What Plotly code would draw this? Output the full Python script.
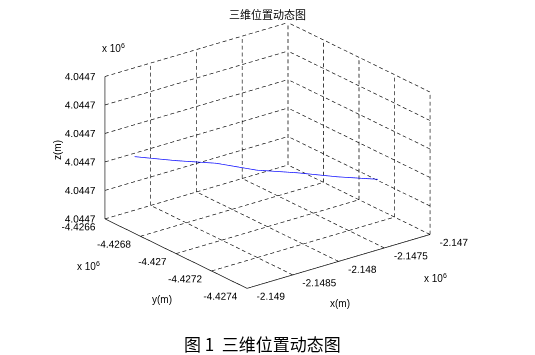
import plotly.graph_objects as go

# ---- data (meters) ----
x_ticks = [-2149000, -2148500, -2148000, -2147500, -2147000]
x_ticktext = ["-2.149", "-2.1485", "-2.148", "-2.1475", "-2.147"]
y_ticks = [-4426600, -4426800, -4427000, -4427200, -4427400]
y_ticktext = ["-4.4266", "-4.4268", "-4.427", "-4.4272", "-4.4274"]
z_ticks = [4044700, 4044702, 4044704, 4044706, 4044708, 4044710]
z_ticktext = ["4.0447"] * 6

track_x = [-2148724, -2148500, -2148280, -2148060, -2147840, -2147620, -2147400]
track_y = [-4426625, -4426740, -4426855, -4426970, -4427085, -4427200, -4427313]
track_z = [4044704.0, 4044704.0, 4044704.1, 4044703.9, 4044704.0, 4044704.0, 4044704.1]

# plot relative to the lower corner to keep WebGL precision
X0, Y0, Z0 = min(x_ticks), min(y_ticks), min(z_ticks)
rx = lambda v: v - X0
ry = lambda v: v - Y0
rz = lambda v: v - Z0

xmin, xmax = rx(min(x_ticks)), rx(max(x_ticks))
ymin, ymax = ry(min(y_ticks)), ry(max(y_ticks))
zmin, zmax = rz(min(z_ticks)), rz(max(z_ticks))

# ---- dashed grid segments on the back walls and floor ----
gx, gy, gz = [], [], []
def dashed(p, q, n):
    for i in range(n):
        t0 = i / n
        t1 = (i + 0.58) / n
        a = [p[k] + (q[k] - p[k]) * t0 for k in range(3)]
        b = [p[k] + (q[k] - p[k]) * t1 for k in range(3)]
        gx.extend([a[0], b[0], None]); gy.extend([a[1], b[1], None]); gz.extend([a[2], b[2], None])

NX, NY, NZ = 28, 24, 21
for xv in map(rx, x_ticks):
    if xv != xmin:
        dashed((xv, ymax, zmin), (xv, ymax, zmax), NZ)      # left wall verticals
        dashed((xv, ymin, zmin), (xv, ymax, zmin), NY)      # floor
for yv in map(ry, y_ticks):
    dashed((xmax, yv, zmin), (xmax, yv, zmax), NZ)          # right wall verticals
    if yv != ymin:
        dashed((xmin, yv, zmin), (xmax, yv, zmin), NX)      # floor
for zv in map(rz, z_ticks):
    if zv != zmin:
        dashed((xmin, ymax, zv), (xmax, ymax, zv), NX)      # left wall horizontals
        dashed((xmax, ymin, zv), (xmax, ymax, zv), NY)      # right wall horizontals

# ---- solid axis lines ----
ax_x, ax_y, ax_z = [], [], []
def aseg(p, q):
    ax_x.extend([p[0], q[0], None]); ax_y.extend([p[1], q[1], None]); ax_z.extend([p[2], q[2], None])
aseg((xmin, ymin, zmin), (xmax, ymin, zmin))
aseg((xmin, ymin, zmin), (xmin, ymax, zmin))
aseg((xmin, ymax, zmin), (xmin, ymax, zmax))

fig = go.Figure()
fig.add_trace(go.Scatter3d(x=gx, y=gy, z=gz, mode="lines",
                           line=dict(color="black", width=1.3),
                           hoverinfo="skip", showlegend=False, connectgaps=False))
fig.add_trace(go.Scatter3d(x=ax_x, y=ax_y, z=ax_z, mode="lines",
                           line=dict(color="black", width=1.4),
                           hoverinfo="skip", showlegend=False, connectgaps=False))
fig.add_trace(go.Scatter3d(x=[rx(v) for v in track_x], y=[ry(v) for v in track_y],
                           z=[rz(v) for v in track_z], mode="lines",
                           line=dict(color="#0000ff", width=1.4),
                           showlegend=False))

tick_font = dict(family="Liberation Sans, Arial", size=10, color="black")
lab_lift = 0.04 * (zmax - zmin)   # small upward shift of the x/y tick-label anchors
fig.add_trace(go.Scatter3d(x=[xmin] * len(z_ticks), y=[ymax] * len(z_ticks),
                           z=[rz(v) for v in z_ticks],
                           mode="text", text=z_ticktext, textposition="middle left",
                           textfont=tick_font, hoverinfo="skip", showlegend=False))
fig.add_trace(go.Scatter3d(x=[xmin] * len(y_ticks), y=[ry(v) for v in y_ticks],
                           z=[zmin + lab_lift] * len(y_ticks),
                           mode="text", text=y_ticktext, textposition="bottom left",
                           textfont=tick_font, hoverinfo="skip", showlegend=False))
fig.add_trace(go.Scatter3d(x=[rx(v) for v in x_ticks], y=[ymin] * len(x_ticks),
                           z=[zmin + lab_lift] * len(x_ticks),
                           mode="text", text=x_ticktext, textposition="bottom right",
                           textfont=tick_font, hoverinfo="skip", showlegend=False))

hidden = dict(visible=False, showgrid=False, zeroline=False, showbackground=False)
S = 1.6
A = 1.49
fig.update_layout(
    width=535, height=355,
    margin=dict(l=0, r=0, t=0, b=0),
    paper_bgcolor="white", plot_bgcolor="white",
    scene=dict(
        xaxis=dict(hidden, range=[xmin, xmax]),
        yaxis=dict(hidden, range=[ymin, ymax]),
        zaxis=dict(hidden, range=[zmin, zmax]),
        aspectmode="manual", aspectratio=dict(x=A, y=A, z=0.99),
        camera=dict(eye=dict(x=-0.613 * S, y=-0.790 * S, z=0.41 * S),
                    center=dict(x=0, y=0, z=0), up=dict(x=0, y=0, z=1),
                    projection=dict(type="orthographic")),
        domain=dict(x=[0, 1], y=[0.124, 1]),
    ),
)

lab_font = dict(family="Liberation Sans, Arial", size=10, color="black")
ann = [
    dict(x=267, y=14, text="三维位置动态图", font=dict(family="Noto Sans CJK SC", size=11, color="black")),
    dict(x=262, y=343, text="图 1  三维位置动态图", font=dict(family="Noto Sans CJK SC", size=17, color="black")),
    dict(x=113, y=48, text="x 10<sup>6</sup>", font=lab_font),
    dict(x=88, y=266, text="x 10<sup>6</sup>", font=lab_font),
    dict(x=435, y=278, text="x 10<sup>6</sup>", font=lab_font),
    dict(x=57, y=150, text="z(m)", font=lab_font, textangle=-90),
    dict(x=162, y=299, text="y(m)", font=lab_font),
    dict(x=340, y=303, text="x(m)", font=lab_font),
]
annotations = []
for a in ann:
    a = dict(a)
    a["x"] = a["x"] / 535
    a["y"] = 1 - a["y"] / 355
    annotations.append(dict(xref="paper", yref="paper", showarrow=False,
                            xanchor="center", yanchor="middle", **a))
fig.update_layout(annotations=annotations)

fig.write_html("out.html", config={"displayModeBar": False})
